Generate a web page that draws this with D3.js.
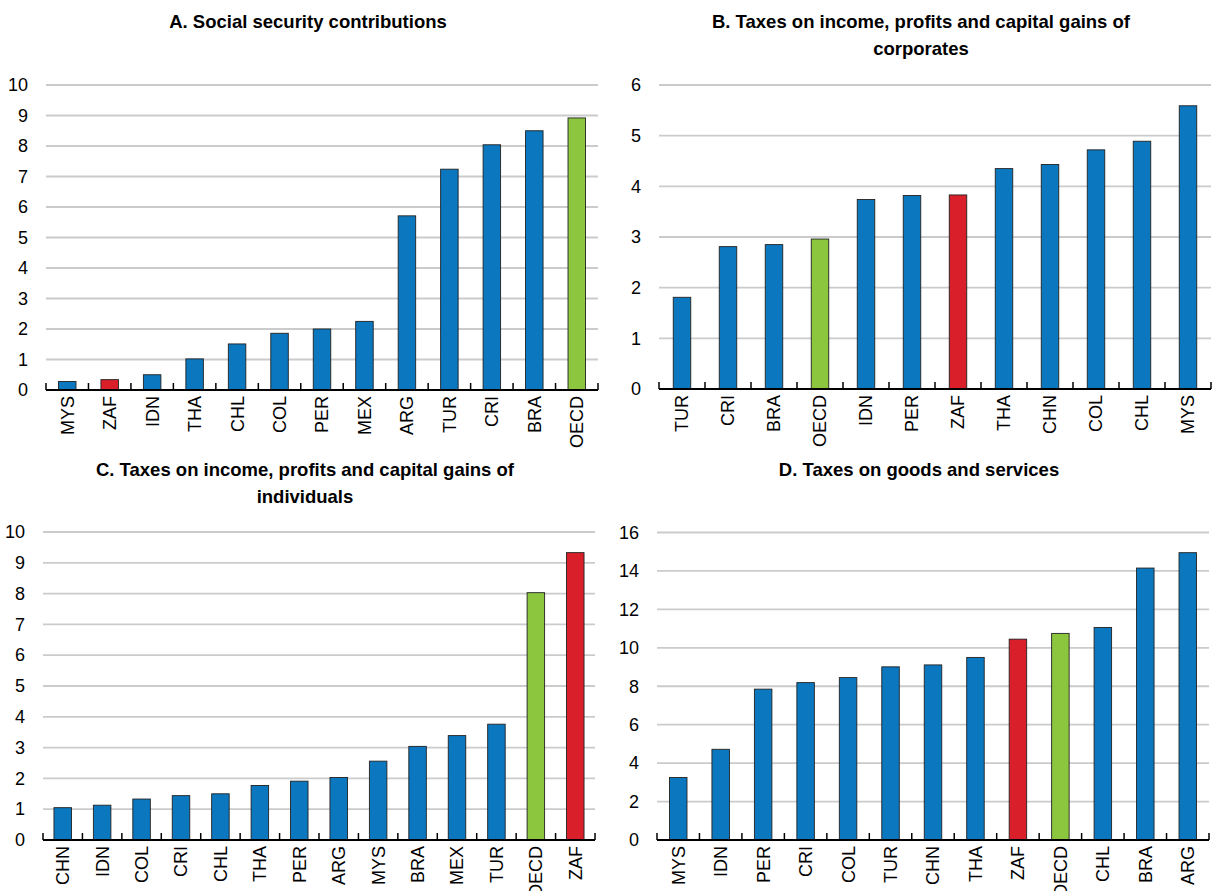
<!DOCTYPE html>
<html>
<head>
<meta charset="utf-8">
<script src="https://cdn.jsdelivr.net/npm/d3@7"></script>
<style>
  html, body { margin: 0; padding: 0; background: #ffffff; }
  svg { display: block; }
  .tick-num { font-family: "Liberation Sans Narrow", "Arial Narrow", "Liberation Sans", Arial, sans-serif; font-size: 18px; fill: #000; }
  .cat { font-family: "Liberation Sans Narrow", "Arial Narrow", "Liberation Sans", Arial, sans-serif; font-size: 18px; fill: #000; }
  .title { font-family: "Liberation Sans", Arial, sans-serif; font-weight: bold; font-size: 18.5px; fill: #000; }
</style>
</head>
<body>
<svg id="chart" width="1213" height="891"></svg>
<script>
// ---------- Data ----------
const catsA = ["MYS","ZAF","IDN","THA","CHL","COL","PER","MEX","ARG","TUR","CRI","BRA","OECD"];
const valsA = [0.28,0.34,0.50,1.02,1.51,1.86,2.00,2.25,5.71,7.24,8.04,8.50,8.92];

const catsB = ["TUR","CRI","BRA","OECD","IDN","PER","ZAF","THA","CHN","COL","CHL","MYS"];
const valsB = [1.81,2.81,2.85,2.96,3.74,3.82,3.83,4.35,4.43,4.72,4.89,5.59];

const catsC = ["CHN","IDN","COL","CRI","CHL","THA","PER","ARG","MYS","BRA","MEX","TUR","OECD","ZAF"];
const valsC = [1.05,1.13,1.33,1.44,1.50,1.77,1.91,2.03,2.56,3.04,3.39,3.76,8.03,9.33];

const catsD = ["MYS","IDN","PER","CRI","COL","TUR","CHN","THA","ZAF","OECD","CHL","BRA","ARG"];
const valsD = [3.25,4.72,7.85,8.19,8.45,9.01,9.11,9.50,10.45,10.75,11.06,14.15,14.95];

const titlesA = ["A. Social security contributions"];
const titlesB = ["B. Taxes on income, profits and capital gains of", "corporates"];
const titlesC = ["C. Taxes on income, profits and capital gains of", "individuals"];
const titlesD = ["D. Taxes on goods and services"];

const ticksA = [0,1,2,3,4,5,6,7,8,9,10];
const ticksB = [0,1,2,3,4,5,6];
const ticksC = [0,1,2,3,4,5,6,7,8,9,10];
const ticksD = [0,2,4,6,8,10,12,14,16];

// ---------- Style ----------
const BLUE = "#0a77bf", RED = "#d9202a", GREEN = "#8cc63f";
function colorFor(c) { return c === "ZAF" ? RED : (c === "OECD" ? GREEN : BLUE); }

const svg = d3.select("#chart");

const panels = [
  { cats: catsA, vals: valsA, titles: titlesA, ticks: ticksA, x0: 46,  y0: 390, yTop: 85,  titleY: 28 },
  { cats: catsB, vals: valsB, titles: titlesB, ticks: ticksB, x0: 659, y0: 389, yTop: 85,  titleY: 28 },
  { cats: catsC, vals: valsC, titles: titlesC, ticks: ticksC, x0: 43,  y0: 840, yTop: 532, titleY: 476 },
  { cats: catsD, vals: valsD, titles: titlesD, ticks: ticksD, x0: 657, y0: 840, yTop: 532.5, titleY: 476 }
];
const plotW = 552;
const barW = 17.5;

panels.forEach(p => {
  const g = svg.append("g");
  const x1 = p.x0 + plotW;
  const step = plotW / p.cats.length;
  const pad = 1 - barW / step;
  const x = d3.scaleBand().domain(p.cats).range([p.x0, x1]).paddingInner(pad).paddingOuter(pad / 2);
  const maxT = p.ticks[p.ticks.length - 1];
  const y = d3.scaleLinear().domain([0, maxT]).range([p.y0, p.yTop]);

  // gridlines
  g.append("g").selectAll("line").data(p.ticks.filter(t => t > 0)).join("line")
    .attr("x1", p.x0).attr("x2", x1)
    .attr("y1", d => y(d)).attr("y2", d => y(d))
    .attr("stroke", "#cbcbcb").attr("stroke-width", 1.8);

  // y axis labels
  const yAxis = d3.axisLeft(y).tickValues(p.ticks).tickSize(0).tickPadding(18).tickFormat(d3.format("d"));
  const ya = g.append("g").attr("transform", `translate(${p.x0},0)`).call(yAxis);
  ya.select(".domain").remove();
  ya.selectAll("text").attr("class", "tick-num").attr("fill", "#000").attr("font-size", null).attr("font-family", null);

  // bars
  g.append("g").selectAll("rect").data(p.cats.map((c, i) => ({ c, v: p.vals[i] }))).join("rect")
    .attr("x", d => x(d.c))
    .attr("width", x.bandwidth())
    .attr("y", d => y(d.v))
    .attr("height", d => y(0) - y(d.v))
    .attr("fill", d => colorFor(d.c))
    .attr("stroke", "#222").attr("stroke-width", 0.9);

  // baseline + category ticks at band boundaries
  const bounds = d3.range(p.cats.length + 1).map(i => p.x0 + i * step);
  g.append("g").selectAll("line").data(bounds).join("line")
    .attr("x1", d => d).attr("x2", d => d)
    .attr("y1", y(0)).attr("y2", y(0) - 7)
    .attr("stroke", "#000").attr("stroke-width", 1.5);
  g.append("line").attr("x1", p.x0).attr("x2", x1).attr("y1", y(0)).attr("y2", y(0))
    .attr("stroke", "#000").attr("stroke-width", 1.8);

  // category labels rotated
  g.append("g").selectAll("text").data(p.cats).join("text")
    .attr("class", "cat")
    .attr("transform", d => `translate(${x(d) + x.bandwidth() / 2},${y(0) + 6}) rotate(-90)`)
    .attr("text-anchor", "end")
    .attr("dy", "0.36em")
    .text(d => d);

  // title
  const cx = p.x0 + plotW / 2 - 14;
  g.append("g").selectAll("text").data(p.titles).join("text")
    .attr("class", "title")
    .attr("x", cx).attr("y", (d, i) => p.titleY + i * 27)
    .attr("text-anchor", "middle")
    .text(d => d);
});
</script>
</body>
</html>
